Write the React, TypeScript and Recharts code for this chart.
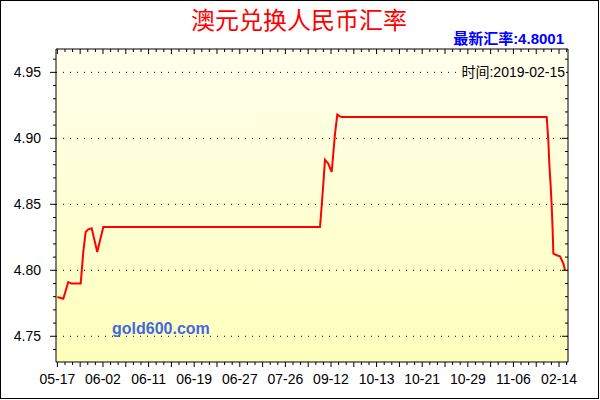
import React from 'react';
import { LineChart, Line, XAxis, YAxis, CartesianGrid, ReferenceLine } from 'recharts';

// x axis tick labels (one every 6 day-steps)
const dateLabels = ['05-17', '06-02', '06-11', '06-19', '06-27', '07-26', '09-12', '10-13', '10-21', '10-29', '11-06', '02-14'];
const labelStep = 6;

// series: position along the x axis (day steps) and AUD/CNY rate
const xPos = [0, 0.78, 1.43, 1.88, 3.07, 3.41, 3.72, 4.07, 4.51, 5.25, 6.04, 34.55, 34.78, 34.99, 35.21, 35.64, 36.09, 36.3, 36.53, 36.83, 37.18, 37.4, 64.38, 64.59, 64.72, 64.91, 65.04, 65.17, 65.25, 65.7, 66.13, 66.57, 66.79];
const rates = [4.7797, 4.7785, 4.7911, 4.7899, 4.7899, 4.8139, 4.829, 4.831, 4.8319, 4.8139, 4.8328, 4.8328, 4.8493, 4.8657, 4.8838, 4.8808, 4.8745, 4.8883, 4.9035, 4.918, 4.9167, 4.9161, 4.9161, 4.8985, 4.8808, 4.8631, 4.848, 4.829, 4.8126, 4.8114, 4.8106, 4.805, 4.8001];

const yMajor = [4.75, 4.8, 4.85, 4.9, 4.95];
const latestRate = '4.8001';
const latestDate = '2019-02-15';
const title = '澳元兑换人民币汇率';

const data = xPos.map((x, k) => ({ i: x, rate: rates[k], frame: rates[k] }));
const xTicks = Array.from({ length: 68 }, (_, k) => k);
const yTicks = Array.from({ length: 23 }, (_, k) => Math.round((4.74 + k * 0.01) * 100) / 100);

const xDomain: [number, number] = [-0.18, 67.18];
const yDomain: [number, number] = [4.7305, 4.9677];
const FONT = '"Liberation Sans", Arial, sans-serif';

const isYMajor = (v: number) => Math.round(v * 100) % 5 === 0;

const LeftTick = (props: any) => {
  const { x, y, payload } = props;
  const v = payload.value as number;
  const major = isYMajor(v);
  return (
    <g>
      <line x1={x - (major ? 6 : 3)} x2={x} y1={y} y2={y} stroke="#000" />
      {major && (
        <text x={x - 15} y={y + 5} textAnchor="end" fontSize={14} fontFamily={FONT} fill="#000">
          {v.toFixed(2)}
        </text>
      )}
    </g>
  );
};

const RightTick = (props: any) => {
  const { x, y, payload } = props;
  const major = isYMajor(payload.value);
  return <line x1={x - (major ? 6 : 3)} x2={x} y1={y} y2={y} stroke="#000" />;
};

const BottomTick = (props: any) => {
  const { x, y, payload } = props;
  const v = payload.value as number;
  const isLabel = v % labelStep === 0;
  const mid = v % 3 === 0;
  return (
    <g>
      <line x1={x} x2={x} y1={y} y2={y + (mid ? 5 : 3)} stroke="#000" />
      {isLabel && (
        <text x={x} y={y + 22} textAnchor="middle" fontSize={14} fontFamily={FONT} fill="#000">
          {dateLabels[v / labelStep]}
        </text>
      )}
    </g>
  );
};

const TopTick = (props: any) => {
  const { x, y, payload } = props;
  const mid = payload.value % 3 === 0;
  return <line x1={x} x2={x} y1={y} y2={y + (mid ? 5 : 3)} stroke="#000" />;
};

export default function App() {
  return (
    <div style={{ position: 'absolute', left: 0, top: 0, width: 600, height: 400, background: '#fff' }}>
      <LineChart width={600} height={400} data={data} margin={{ top: 48, right: 31, bottom: 0, left: 0 }}>
        <defs>
          <linearGradient id="bgGrad" x1="0" y1="0" x2="0" y2="1">
            <stop offset="0%" stopColor="#FFFFEC" />
            <stop offset="100%" stopColor="#FFFFBC" />
          </linearGradient>
        </defs>
        <CartesianGrid horizontal={false} vertical={false} fill="url(#bgGrad)" />
        <XAxis
          dataKey="i"
          type="number"
          domain={xDomain}
          allowDataOverflow
          ticks={xTicks}
          interval={0}
          height={38}
          tickSize={0}
          tickMargin={0}
          tickLine={false}
          tick={<BottomTick />}
          axisLine={{ stroke: '#000' }}
        />
        <XAxis
          xAxisId="top"
          orientation="top"
          dataKey="i"
          type="number"
          domain={xDomain}
          allowDataOverflow
          ticks={xTicks}
          interval={0}
          height={1}
          tickSize={0}
          tickMargin={0}
          tickLine={false}
          tick={<TopTick />}
          axisLine={{ stroke: '#000' }}
        />
        <YAxis
          type="number"
          domain={yDomain}
          allowDataOverflow
          ticks={yTicks}
          interval={0}
          width={56}
          tickSize={0}
          tickMargin={0}
          tickLine={false}
          tick={<LeftTick />}
          axisLine={{ stroke: '#000' }}
        />
        <YAxis
          yAxisId="right"
          orientation="right"
          type="number"
          domain={yDomain}
          allowDataOverflow
          ticks={yTicks}
          interval={0}
          width={1}
          tickSize={0}
          tickMargin={0}
          tickLine={false}
          tick={<RightTick />}
          axisLine={{ stroke: '#000' }}
        />
        {yMajor.map((v) => (
          <ReferenceLine key={v} y={v} stroke="#000" strokeDasharray="1 6" />
        ))}
        <Line
          xAxisId="top"
          yAxisId="right"
          type="linear"
          dataKey="frame"
          stroke="none"
          strokeWidth={0}
          dot={false}
          activeDot={false}
          legendType="none"
          isAnimationActive={false}
        />
        <Line
          type="linear"
          dataKey="rate"
          stroke="#FF0000"
          strokeWidth={2}
          dot={false}
          isAnimationActive={false}
        />
      </LineChart>
      <svg width={600} height={400} style={{ position: 'absolute', left: 0, top: 0, pointerEvents: 'none' }}>
        <rect x={0.5} y={0.5} width={598} height={398} fill="none" stroke="#000" />
        <text x={299} y={29} textAnchor="middle" fontSize={24} fontFamily='"Noto Sans CJK SC", sans-serif' fill="#FF0000">
          {title}
        </text>
        <text x={564} y={44} textAnchor="end" fontSize={15} fontWeight="bold" fontFamily='"Liberation Sans", "Noto Sans CJK SC", sans-serif' fill="#0000FF">
          {'最新汇率:' + latestRate}
        </text>
        <rect x={459} y={63} width={107} height={17} fill="#FFFFEA" />
        <text x={565} y={77} textAnchor="end" fontSize={14} fontFamily='"Liberation Sans", "Noto Sans CJK SC", sans-serif' fill="#000">
          {'时间:' + latestDate}
        </text>
        <text x={112} y={334} fontSize={16} fontWeight="bold" fontFamily={FONT} fill="#4169E1">
          gold600.com
        </text>
      </svg>
    </div>
  );
}
